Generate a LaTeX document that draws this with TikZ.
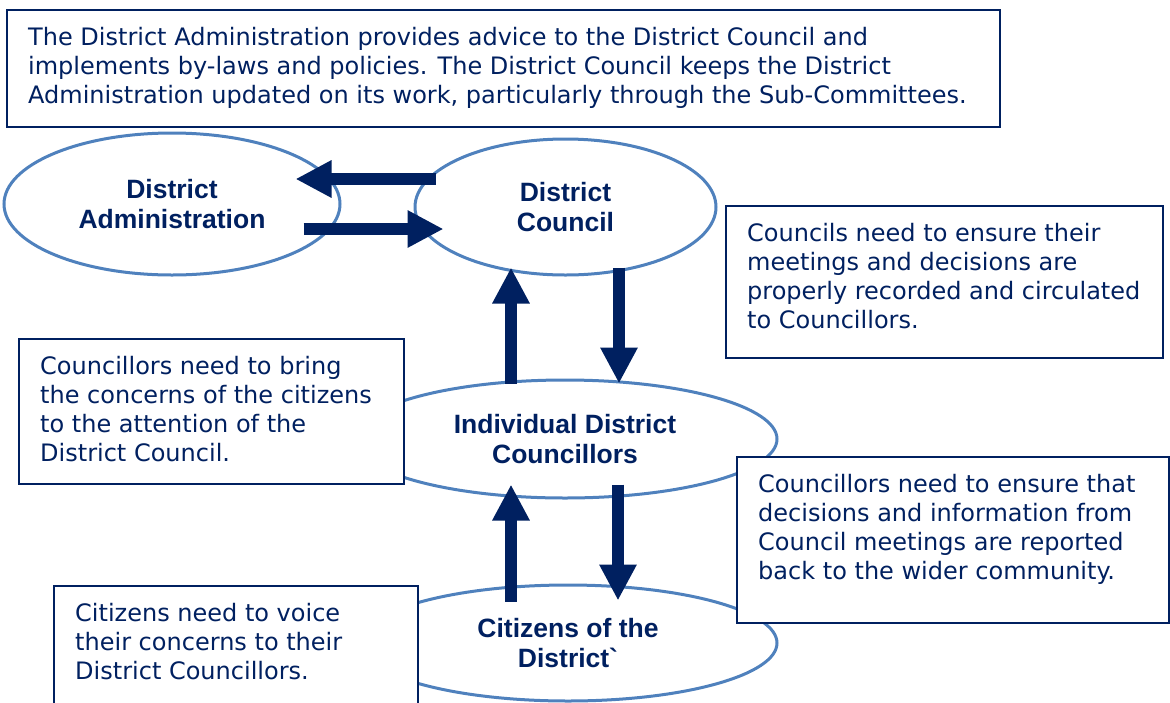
\documentclass[tikz,border=0pt]{standalone}
\usepackage{fontspec}
\setmainfont{DejaVu Sans}
\newfontfamily\headfont{Liberation Sans}
\usetikzlibrary{shapes.geometric, arrows.meta}
\definecolor{navy}{RGB}{0,32,96}
\definecolor{rimblue}{RGB}{79,129,189}

\begin{document}
\begin{tikzpicture}[x=1pt, y=-1pt,
    body/.style={ellipse, draw=rimblue, line width=3pt, fill=white, inner sep=0pt,
        align=center, text=navy, font=\headfont\bfseries\fontsize{26.5}{30}\selectfont},
    notebox/.style={draw=navy, line width=2.2pt, fill=white, inner sep=0pt, anchor=north west},
    notetext/.style={anchor=north west, inner sep=0pt, align=left, text=navy,
        font=\fontsize{24}{29}\selectfont},
    flow/.style={draw=navy, line width=12pt, -{Triangle[width=35pt,length=36pt]}}]
    \useasboundingbox (0,0) rectangle (1170,702);

    % Bodies of the district
    \node[body, minimum width=336pt, minimum height=142pt] (admin) at (172,204) {District\\Administration};
    \node[body, minimum width=301pt, minimum height=136pt] (council) at (565.5,207) {District\\Council};
    \node[body, minimum width=424pt, minimum height=118pt] (members) at (565,439) {Individual District\\Councillors};
    \node[body, minimum width=418pt, minimum height=116pt] (citizens) at (568,643) {Citizens of the\\District\textasciigrave};

    % Flows between them
    \draw[flow] ([shift={(22,-28)}]council.west) -- ([shift={(-46,-25)}]admin.east);
    \draw[flow] ([shift={(-38,25)}]admin.east) -- ([shift={(30,22)}]council.west);
    \draw[flow] ([shift={(-54,5)}]members.north) -- ([shift={(-54.5,-9)}]council.south);
    \draw[flow] ([shift={(53.5,-9)}]council.south) -- ([shift={(54,5)}]members.north);
    \draw[flow] ([shift={(-57,18)}]citizens.north) -- ([shift={(-54,-15)}]members.south);
    \draw[flow] ([shift={(53,-15)}]members.south) -- ([shift={(50,17)}]citizens.north);

    % Notes
    \node[notebox, minimum width=993pt, minimum height=117pt] (adviceBox) at (6,9) {};
    \node[notetext] (adviceText) at ([shift={(22,18)}]adviceBox.north west)
        {The District Administration provides advice to the District Council and\\
         implements by-laws and policies. The District Council keeps the District\\
         Administration updated on its work, particularly through the Sub-Committees.};

    \node[notebox, minimum width=437pt, minimum height=152pt] (recordBox) at (725,205) {};
    \node[notetext] (recordText) at ([shift={(22,18)}]recordBox.north west)
        {Councils need to ensure their\\
         meetings and decisions are\\
         properly recorded and circulated\\
         to Councillors.};

    \node[notebox, minimum width=385pt, minimum height=145pt] (bringBox) at (18,338) {};
    \node[notetext] (bringText) at ([shift={(22,18)}]bringBox.north west)
        {Councillors need to bring\\
         the concerns of the citizens\\
         to the attention of the\\
         District Council.};

    \node[notebox, minimum width=432pt, minimum height=166pt] (reportBox) at (736,456) {};
    \node[notetext] (reportText) at ([shift={(22,18)}]reportBox.north west)
        {Councillors need to ensure that\\
         decisions and information from\\
         Council meetings are reported\\
         back to the wider community.};

    \node[notebox, minimum width=364pt, minimum height=140pt] (voiceBox) at (53,585) {};
    \node[notetext] (voiceText) at ([shift={(22,18)}]voiceBox.north west)
        {Citizens need to voice\\
         their concerns to their\\
         District Councillors.};
\end{tikzpicture}
\end{document}
